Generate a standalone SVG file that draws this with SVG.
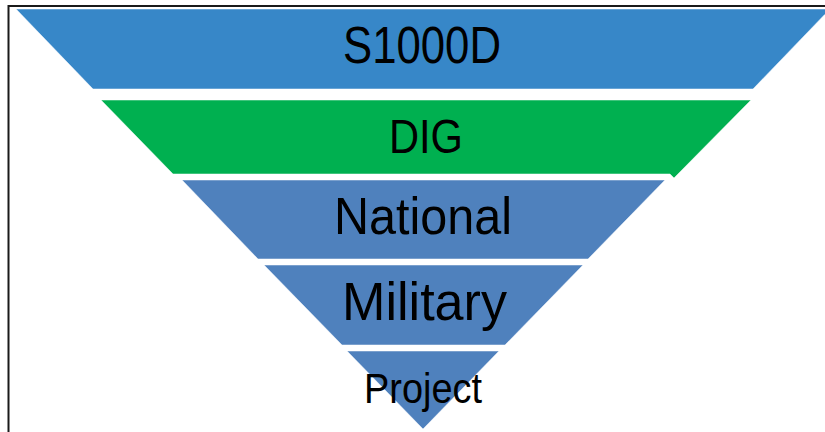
<svg xmlns="http://www.w3.org/2000/svg" width="825" height="432" viewBox="0 0 825 432">
<style>
  .band { stroke: #ffffff; stroke-width: 1; stroke-opacity: 0.5; }
  .lbl { font-family: "Liberation Sans", Arial, sans-serif; fill: #000000; text-anchor: middle; }
</style>
<rect x="0" y="0" width="825" height="432" fill="#ffffff"/>
<g id="frame">
  <line x1="8.5" y1="5" x2="8.5" y2="432" stroke="#1a1a1a" stroke-width="2"/>
  <line x1="8" y1="6" x2="825" y2="6" stroke="#1a1a1a" stroke-width="2"/>
</g>
<g id="s1000d">
  <polygon class="band" fill="#3787C8" points="16,9 830,9 753,89 93,89"/>
  <text class="lbl" x="422" y="63" font-size="52" textLength="158" lengthAdjust="spacingAndGlyphs">S1000D</text>
</g>
<g id="dig">
  <polygon class="band" fill="#00B050" points="101,100 751,100 674,178 670,174 173,174"/>
  <text class="lbl" x="426" y="153" font-size="49" textLength="74" lengthAdjust="spacingAndGlyphs">DIG</text>
</g>
<g id="national">
  <polygon class="band" fill="#4F81BD" points="182,180 665,180 588,259 258,259"/>
  <text class="lbl" x="423" y="234" font-size="52" textLength="178" lengthAdjust="spacingAndGlyphs">National</text>
</g>
<g id="military">
  <polygon class="band" fill="#4F81BD" points="264,265 583,265 505,345 342,345"/>
  <text class="lbl" x="424.5" y="320" font-size="53" textLength="165" lengthAdjust="spacingAndGlyphs">Military</text>
</g>
<g id="project">
  <polygon class="band" fill="#4F81BD" points="347,351 499,351 423,429"/>
  <text class="lbl" x="423" y="403" font-size="42" textLength="118" lengthAdjust="spacingAndGlyphs">Project</text>
</g>
<g id="connectors"/>
</svg>
